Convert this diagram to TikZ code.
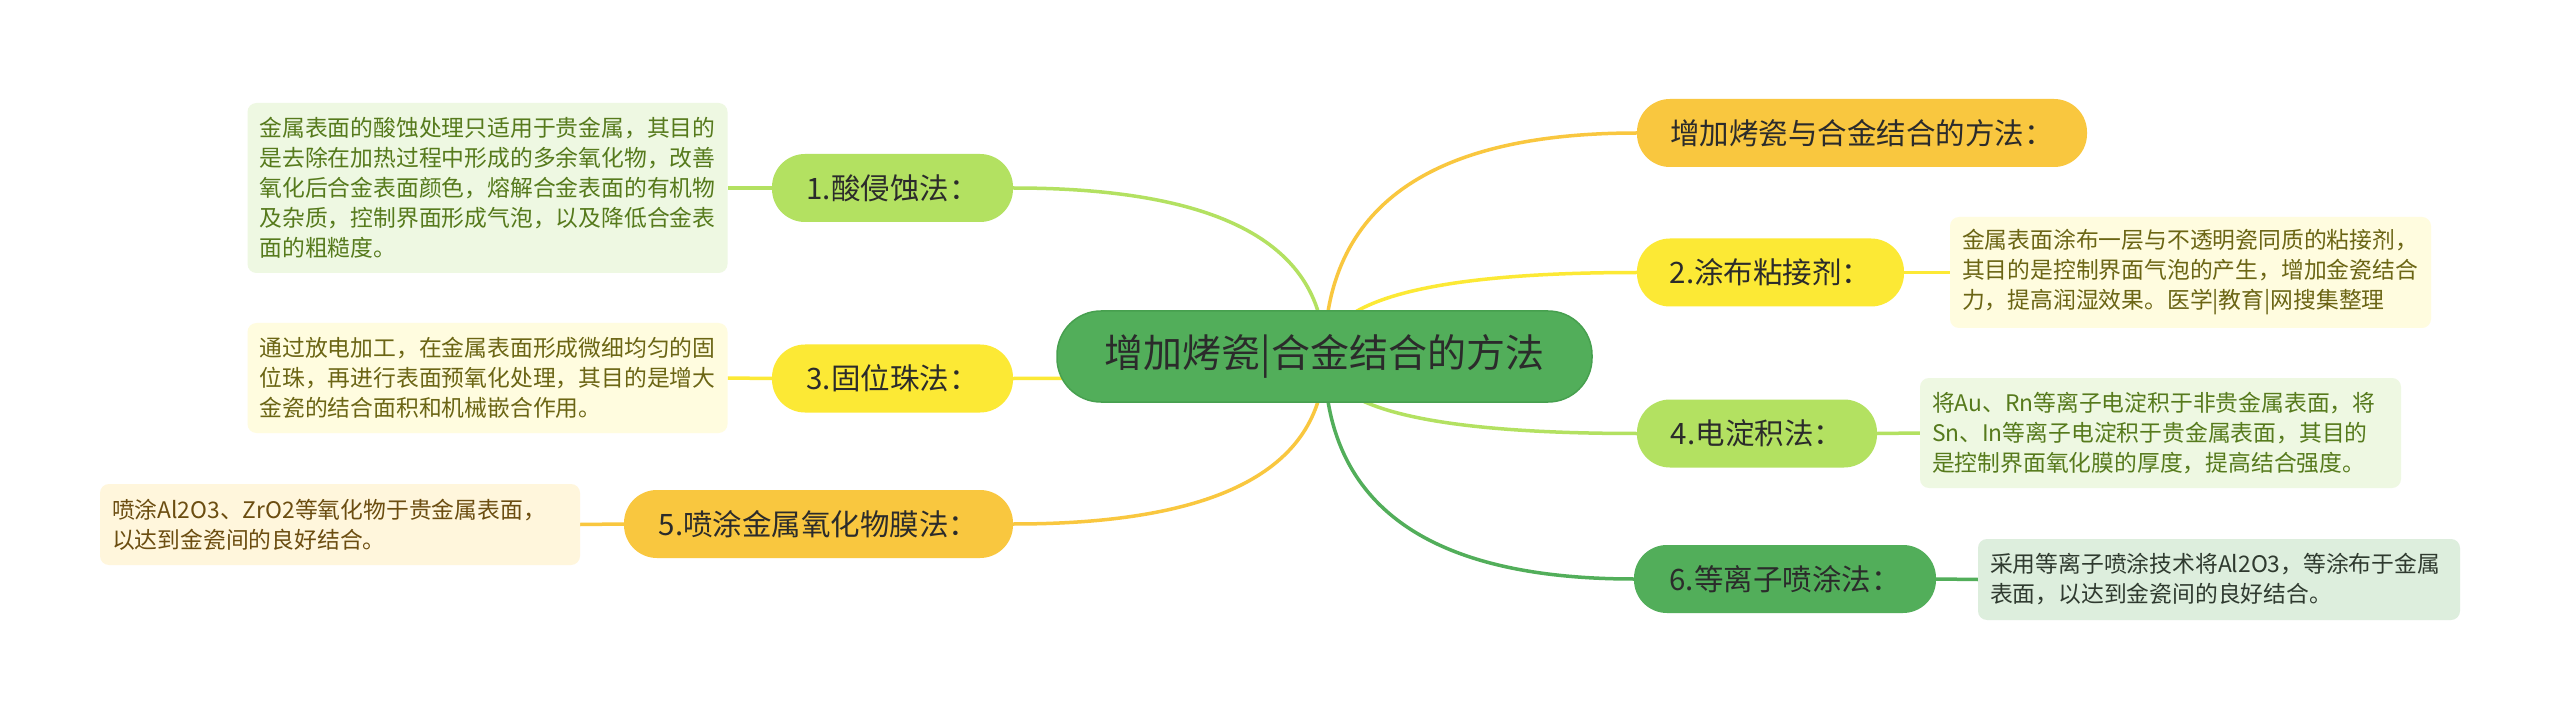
\documentclass[tikz,border=0pt]{standalone}
\usepackage{fontspec}
\setmainfont{Noto Sans CJK SC}
\usetikzlibrary{calc,backgrounds}
\definecolor{cgreen}{HTML}{52AE5A}
\definecolor{cgreenb}{HTML}{47A04F}
\definecolor{clight}{HTML}{B3E161}
\definecolor{cyellow}{HTML}{FCE935}
\definecolor{corange}{HTML}{F9C73F}
\definecolor{bxgreen}{HTML}{EEF8E2}
\definecolor{bxyellow}{HTML}{FFFCDF}
\definecolor{bxcream}{HTML}{FFF6DC}
\definecolor{bxmint}{HTML}{DDEEDD}
\definecolor{txgreen}{HTML}{567A1C}
\definecolor{txolive}{HTML}{6B6514}
\definecolor{txbrown}{HTML}{6B4D10}
\definecolor{txdark}{HTML}{2F3A2F}
\definecolor{tnode}{HTML}{2B2B2B}
\tikzset{
  root/.style={fill=cgreen, draw=cgreenb, line width=1.5, rounded corners=44, minimum width=535, minimum height=91, inner sep=0, font=\fontsize{39}{44}\selectfont, text=tnode},
  topic/.style={rounded corners=33, minimum height=68, inner sep=0, font=\fontsize{29.5}{34}\selectfont, text=tnode},
  note/.style={rounded corners=9, align=left, inner xsep=12, inner ysep=0, font=\fontsize{22.8}{30}\selectfont},
  link/.style={line width=3.5},
  quad/.style={to path={.. controls ($(\tikztostart)!2/3!(\tikztostart|-\tikztotarget)$) and ($(\tikztotarget)!2/3!(\tikztostart|-\tikztotarget)$) .. (\tikztotarget)}}
}
\begin{document}
\begin{tikzpicture}[x=1pt,y=-1pt]
\useasboundingbox (0,0) rectangle (2560,719);
% main topic
\node[root] (root) at (1324.5,356.5) {增加烤瓷|合金结合的方法};
\coordinate (C) at (1324.5,356.5);
% right topics
\node[topic, fill=corange, minimum width=450] (t0) at (1862,133) {增加烤瓷与合金结合的方法：};
\node[topic, fill=cyellow, minimum width=267] (t2) at (1770.5,272.5) {2.涂布粘接剂：};
\node[topic, fill=clight, minimum width=240] (t4) at (1757,433.5) {4.电淀积法：};
\node[topic, fill=cgreen, minimum width=302] (t6) at (1785,579) {6.等离子喷涂法：};
% left topics
\node[topic, fill=clight, minimum width=241] (t1) at (892.5,188) {1.酸侵蚀法：};
\node[topic, fill=cyellow, minimum width=241] (t3) at (892.5,378.5) {3.固位珠法：};
\node[topic, fill=corange, minimum width=389] (t5) at (818.5,524) {5.喷涂金属氧化物膜法：};
% notes
\node[note, fill=bxgreen, text=txgreen, text width=456, minimum height=170] (b1) at (487.5,188) {金属表面的酸蚀处理只适用于贵金属，其目的\\是去除在加热过程中形成的多余氧化物，改善\\氧化后合金表面颜色，熔解合金表面的有机物\\及杂质，控制界面形成气泡，以及降低合金表\\面的粗糙度。};
\node[note, fill=bxyellow, text=txolive, text width=456, minimum height=110] (b3) at (487.5,378) {通过放电加工，在金属表面形成微细均匀的固\\位珠，再进行表面预氧化处理，其目的是增大\\金瓷的结合面积和机械嵌合作用。};
\node[note, fill=bxcream, text=txbrown, text width=456, minimum height=81] (b5) at (340,524.5) {喷涂Al2O3、ZrO2等氧化物于贵金属表面，\\以达到金瓷间的良好结合。};
\node[note, fill=bxyellow, text=txolive, text width=457, minimum height=111] (b2) at (2190.5,272.5) {金属表面涂布一层与不透明瓷同质的粘接剂，\\其目的是控制界面气泡的产生，增加金瓷结合\\力，提高润湿效果。医学|教育|网搜集整理};
\node[note, fill=bxgreen, text=txgreen, text width=457, minimum height=110] (b4) at (2160.5,433) {将Au、Rn等离子电淀积于非贵金属表面，将\\Sn、In等离子电淀积于贵金属表面，其目的\\是控制界面氧化膜的厚度，提高结合强度。};
\node[note, fill=bxmint, text=txdark, text width=458, minimum height=81] (b6) at (2219,579.5) {采用等离子喷涂技术将Al2O3，等涂布于金属\\表面，以达到金瓷间的良好结合。};
\begin{scope}[on background layer]
\fill[white] (0,0) rectangle (2560,719);
\draw[link, corange] (C) to[quad] (t0.west);
\draw[link, cyellow] (C) to[quad] (t2.west);
\draw[link, clight] (C) to[quad] (t4.west);
\draw[link, cgreen] (C) to[quad] (t6.west);
\draw[link, clight] (C) to[quad] (t1.east);
\draw[link, cyellow] (C) to[quad] (t3.east);
\draw[link, corange] (C) to[quad] (t5.east);
\draw[link, cyellow] (t2.east) -- (b2.west);
\draw[link, clight] (t4.east) -- (b4.west);
\draw[link, cgreen] (t6.east) -- (b6.west);
\draw[link, clight] (t1.west) -- (b1.east);
\draw[link, cyellow] (t3.west) -- (b3.east);
\draw[link, corange] (t5.west) -- (b5.east);
\end{scope}
\end{tikzpicture}
\end{document}
